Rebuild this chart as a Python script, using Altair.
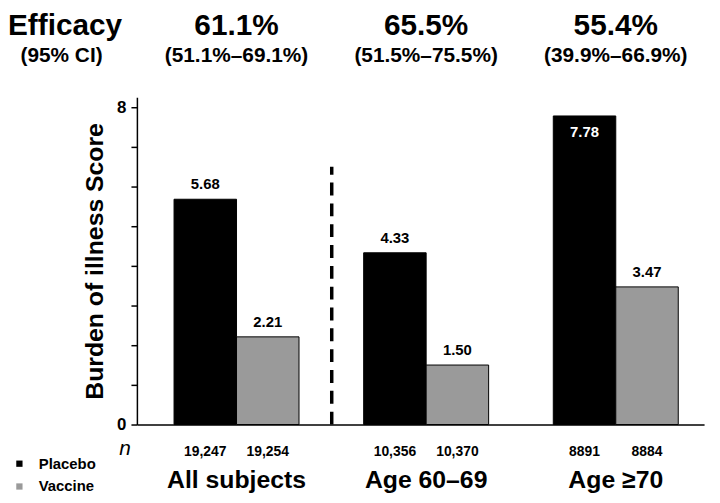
import altair as alt
import pandas as pd

groups = ["All subjects", "Age 60–69", "Age ≥70"]
series = ["Placebo", "Vaccine"]
placebo = [5.68, 4.33, 7.78]
vaccine = [2.21, 1.50, 3.47]
n_placebo = ["19,247", "10,356", "8891"]
n_vaccine = ["19,254", "10,370", "8884"]
efficacy = ["61.1%", "65.5%", "55.4%"]
ci = ["(51.1%–69.1%)", "(51.5%–75.5%)", "(39.9%–66.9%)"]
y_ticks = [0, 1, 2, 3, 4, 5, 6, 7, 8]
divider_top = 6.5

rows = []
for g, p, v, np_, nv in zip(groups, placebo, vaccine, n_placebo, n_vaccine):
    rows.append({"group": g, "series": "Placebo", "value": p, "n": np_})
    rows.append({"group": g, "series": "Vaccine", "value": v, "n": nv})
df = pd.DataFrame(rows)
df_head = pd.DataFrame({"group": groups, "eff": efficacy, "ci": ci})
df_div = pd.DataFrame({"group": [groups[0]], "y": [0], "y2": [divider_top]})
df_left = pd.DataFrame({"t1": ["Efficacy"], "t2": ["(95% CI)"], "t3": ["n"]})

xscale = alt.Scale(domain=groups, paddingInner=0.341, paddingOuter=0.166, align=0.59)
xaxis = alt.Axis(title=None, ticks=False, domain=True, domainColor="black", domainWidth=1.5,
                 labelFontSize=25, labelFontWeight="bold", labelColor="black",
                 labelPadding=44, labelAngle=0)
X = alt.X("group:N", sort=groups, scale=xscale, axis=xaxis)

yscale = alt.Scale(domain=[0, 8.25], nice=False, zero=True)
yaxis = alt.Axis(title="Burden of illness Score", values=y_ticks,
                 labelExpr="(datum.value == 0 || datum.value == 8) ? datum.label : ''",
                 tickSize=6, tickColor="black", tickWidth=1.5, domainColor="black", domainWidth=1.5,
                 labelFontSize=17, labelFontWeight="bold", labelColor="black", labelPadding=5,
                 titleFontSize=25, titleFontWeight="bold", titleColor="black", titlePadding=9,
                 grid=False)
Y = alt.Y("value:Q", scale=yscale, axis=yaxis)
XO = alt.XOffset("series:N", sort=series, scale=alt.Scale(paddingInner=0, paddingOuter=0))

base = alt.Chart(df)

bars = base.mark_bar(stroke="black", strokeWidth=1).encode(
    x=X, xOffset=XO, y=Y,
    color=alt.Color("series:N", sort=series,
                    scale=alt.Scale(domain=series, range=["#000000", "#9a9a9a"]),
                    legend=alt.Legend(title=None, orient="none", legendX=-126, legendY=362,
                                      symbolType="square", symbolSize=40, symbolStrokeWidth=0,
                                      labelFontSize=15, labelFontWeight="bold", labelColor="black",
                                      labelOffset=12, rowPadding=7)),
)

lab_above = base.transform_filter("datum.value < 7").mark_text(
    dy=-15, fontSize=15, fontWeight="bold", baseline="middle", color="black"
).encode(x=X, xOffset=XO, y=Y, text=alt.Text("value:Q", format=".2f"))

lab_in = base.transform_filter("datum.value >= 7").mark_text(
    dy=16, fontSize=15, fontWeight="bold", baseline="middle", color="white"
).encode(x=X, xOffset=XO, y=Y, text=alt.Text("value:Q", format=".2f"))

n_text = base.mark_text(fontSize=14, fontWeight="bold", baseline="middle", color="black").encode(
    x=X, xOffset=XO, y=alt.value(358), text="n:N")

head_eff = alt.Chart(df_head).mark_text(fontSize=30, fontWeight="bold", baseline="middle", color="black").encode(
    x=X, y=alt.value(-72), text="eff:N")
head_ci = alt.Chart(df_head).mark_text(fontSize=21, fontWeight="bold", baseline="middle", color="black").encode(
    x=X, y=alt.value(-42), text="ci:N")

left_eff = alt.Chart(df_left).mark_text(fontSize=30, fontWeight="bold", baseline="middle", align="left", color="black").encode(
    x=alt.value(-130), y=alt.value(-72), text="t1:N")
left_ci = alt.Chart(df_left).mark_text(fontSize=21, fontWeight="bold", baseline="middle", align="center", color="black").encode(
    x=alt.value(-76), y=alt.value(-42), text="t2:N")
n_lab = alt.Chart(df_left).mark_text(fontSize=21, fontStyle="italic", baseline="middle", align="center", color="black").encode(
    x=alt.value(-12), y=alt.value(355), text="t3:N")

divider = alt.Chart(df_div).mark_rule(color="black", strokeWidth=3.5, strokeDash=[13, 8], xOffset=33).encode(
    x=alt.X("group:N", sort=groups, scale=xscale, axis=xaxis, bandPosition=1),
    y=alt.Y("y:Q", scale=yscale, axis=yaxis), y2="y2:Q")

chart = alt.layer(bars, lab_above, lab_in, n_text, head_eff, head_ci, left_eff, left_ci, n_lab, divider).properties(
    width=572, height=330,
    autosize=alt.AutoSizeParams(type="none"),
    padding={"left": 130, "top": 88, "right": 8, "bottom": 69},
    background="white",
).configure(font="Liberation Sans").configure_view(stroke=None)

chart.save("out.html", embed_options={"renderer": "svg", "actions": False})
